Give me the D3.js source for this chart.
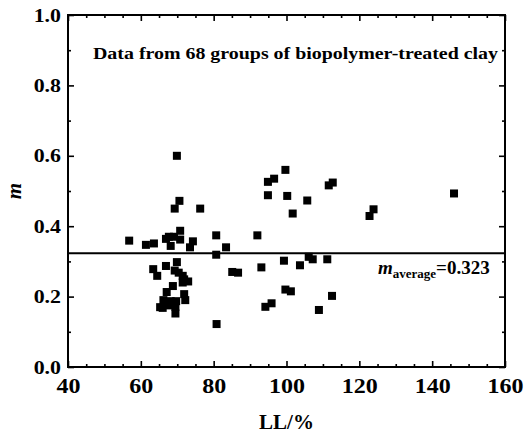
<!DOCTYPE html>
<meta charset="utf-8">
<script src="https://d3js.org/d3.v7.min.js"></script>
<style>
  body { margin: 0; background: #fff; }
  text { font-family: "Liberation Serif", "Times New Roman", serif; font-weight: bold; }
</style>
<div id="my_dataviz"></div>
<script>
// liquid limit LL (%) and exponent m
var llValues = [69.9, 70.6, 69.3, 76.3, 56.8, 61.4, 63.6, 66.9, 68.2, 67.7, 69.1, 70.8, 70.8, 74.3,
  73.5, 80.7, 80.7, 63.4, 64.5, 66.9, 69.9, 69.3, 70.4, 71.5, 71.5, 73.0, 68.8, 67.1, 71.9, 66.2,
  68.2, 69.7, 72.2, 66.0, 67.8, 69.5, 69.5, 80.8, 99.7, 94.9, 96.6, 111.6, 112.7, 94.9, 100.2,
  105.7, 101.7, 123.9, 122.8, 92.0, 83.4, 99.3, 106.1, 107.2, 111.2, 103.7, 93.1, 85.1, 86.7,
  99.7, 101.2, 112.5, 95.9, 94.2, 108.9, 146.0, 71.9, 65.3];
var mValues = [0.600, 0.472, 0.450, 0.450, 0.359, 0.347, 0.351, 0.364, 0.344, 0.370, 0.370, 0.387, 0.362, 0.357,
  0.340, 0.374, 0.319, 0.278, 0.259, 0.287, 0.298, 0.274, 0.268, 0.259, 0.240, 0.243, 0.230, 0.213, 0.207, 0.190,
  0.187, 0.187, 0.190, 0.168, 0.175, 0.171, 0.152, 0.122, 0.560, 0.526, 0.535, 0.516, 0.524, 0.488, 0.486,
  0.473, 0.436, 0.448, 0.429, 0.374, 0.340, 0.302, 0.313, 0.306, 0.306, 0.289, 0.283, 0.270, 0.268,
  0.220, 0.215, 0.202, 0.181, 0.171, 0.162, 0.493, 0.249, 0.170];
var mAverage = 0.323;
var xTicks = [40, 60, 80, 100, 120, 140, 160];
var xMinor = [45, 50, 55, 65, 70, 75, 85, 90, 95, 105, 110, 115, 125, 130, 135, 145, 150, 155];
var yTicks = [0.0, 0.2, 0.4, 0.6, 0.8, 1.0];
var yMinor = [0.1, 0.3, 0.5, 0.7, 0.9];

var margin = {top: 15, right: 26, bottom: 69, left: 68},
    width = 531 - margin.left - margin.right,
    height = 436 - margin.top - margin.bottom;

var svg = d3.select("#my_dataviz")
  .append("svg")
    .attr("width", 531)
    .attr("height", 436)
  .append("g")
    .attr("transform", "translate(" + margin.left + "," + margin.top + ")");

var x = d3.scaleLinear().domain([40, 160]).range([0, width]);
var y = d3.scaleLinear().domain([0, 1]).range([height, 0]);

// stretch labels a bit wider, the original is horizontally stretched
function stretch(sel, k) {
  sel.each(function() {
    var w = this.getComputedTextLength();
    d3.select(this).attr("textLength", w * k).attr("lengthAdjust", "spacingAndGlyphs");
  });
}

// bottom axis
var bx = svg.append("g")
  .attr("transform", "translate(0," + height + ")")
  .call(d3.axisBottom(x).tickValues(xTicks).tickSizeInner(-6).tickSizeOuter(0).tickPadding(12).tickFormat(d3.format("d")));
bx.selectAll("text").style("font-size", "20px").attr("fill", "#000");
svg.append("g")
  .attr("transform", "translate(0," + height + ")")
  .call(d3.axisBottom(x).tickValues(xMinor).tickSizeInner(-3).tickSizeOuter(0).tickFormat(""));

// top axis
svg.append("g")
  .call(d3.axisTop(x).tickValues(xTicks).tickSizeInner(-6).tickSizeOuter(0).tickFormat(""));
svg.append("g")
  .call(d3.axisTop(x).tickValues(xMinor).tickSizeInner(-3).tickSizeOuter(0).tickFormat(""));

// left axis
var ly = svg.append("g")
  .call(d3.axisLeft(y).tickValues(yTicks).tickSizeInner(-6).tickSizeOuter(0).tickPadding(7).tickFormat(d3.format(".1f")));
ly.selectAll("text").style("font-size", "19px").attr("fill", "#000");
svg.append("g")
  .call(d3.axisLeft(y).tickValues(yMinor).tickSizeInner(-3).tickSizeOuter(0).tickFormat(""));

// right axis
svg.append("g")
  .attr("transform", "translate(" + width + ",0)")
  .call(d3.axisRight(y).tickValues(yTicks).tickSizeInner(-6).tickSizeOuter(0).tickFormat(""));
svg.append("g")
  .attr("transform", "translate(" + width + ",0)")
  .call(d3.axisRight(y).tickValues(yMinor).tickSizeInner(-3).tickSizeOuter(0).tickFormat(""));

svg.selectAll(".domain").remove();
svg.selectAll(".tick line").attr("stroke", "#000").attr("stroke-width", 1.6);
stretch(bx.selectAll("text"), 1.2);
stretch(ly.selectAll("text"), 1.15);

// frame
svg.append("rect")
  .attr("x", 0).attr("y", 0)
  .attr("width", width).attr("height", height)
  .attr("fill", "none").attr("stroke", "#000").attr("stroke-width", 2);

// average line
svg.append("line")
  .attr("x1", 0).attr("x2", width)
  .attr("y1", y(mAverage)).attr("y2", y(mAverage))
  .attr("stroke", "#000").attr("stroke-width", 2);

// points
var pts = llValues.map(function(d, i) { return {ll: d, m: mValues[i]}; });
var s = 8;
svg.selectAll("rect.pt")
  .data(pts)
  .enter()
  .append("rect")
    .attr("class", "pt")
    .attr("x", function(d) { return x(d.ll) - s / 2; })
    .attr("y", function(d) { return y(d.m) - s / 2; })
    .attr("width", s)
    .attr("height", s)
    .attr("fill", "#000");

// axis titles
svg.append("text")
  .attr("x", width / 2).attr("y", height + 62)
  .style("text-anchor", "middle").style("font-size", "21px")
  .text("LL/%");
svg.append("text")
  .attr("transform", "translate(" + (-47) + "," + (height / 2) + ") rotate(-90)")
  .style("text-anchor", "middle").style("font-size", "21px").style("font-style", "italic")
  .text("m");

// annotations
svg.append("text")
  .attr("x", 93 - margin.left).attr("y", 59 - margin.top)
  .style("font-size", "16px")
  .attr("textLength", 405).attr("lengthAdjust", "spacingAndGlyphs")
  .text("Data from 68 groups of biopolymer-treated clay");

var avg = svg.append("text")
  .attr("x", 378 - margin.left).attr("y", 274 - margin.top)
  .style("font-size", "19px");
avg.append("tspan").style("font-style", "italic").text("m");
avg.append("tspan").style("font-size", "13px").attr("dy", 4).text("average");
avg.append("tspan").attr("dy", -4).text("=" + mAverage.toFixed(3));
</script>
